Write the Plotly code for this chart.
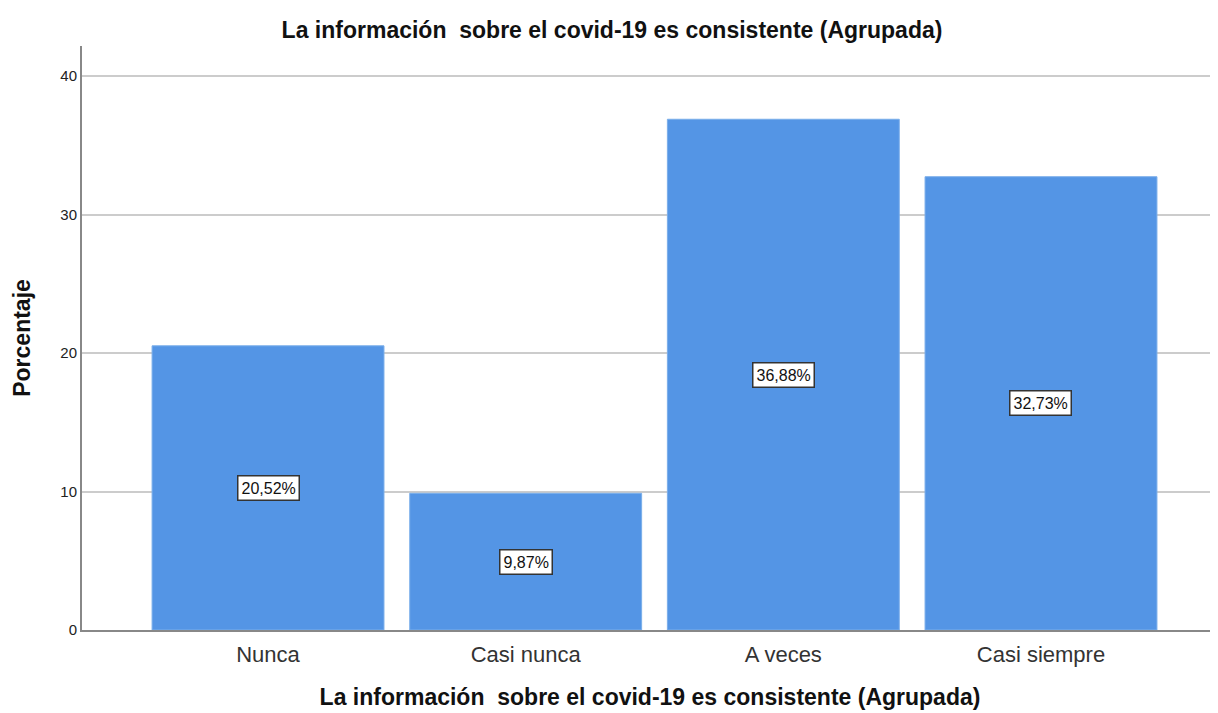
import plotly.graph_objects as go

categorias = ["Nunca", "Casi nunca", "A veces", "Casi siempre"]
porcentajes = [20.52, 9.87, 36.88, 32.73]
etiquetas = ["20,52%", "9,87%", "36,88%", "32,73%"]
y_ticks = [0, 10, 20, 30, 40]

titulo = "La información\u00a0 sobre el covid-19 es consistente (Agrupada)"

fig = go.Figure()

fig.add_trace(go.Bar(
    x=categorias,
    y=porcentajes,
    width=0.9,
    marker=dict(color='#5495e5', line=dict(color='#7aaeea', width=1)),
    hoverinfo='x+y',
))

# value labels centered in each bar, boxed like SPSS
for cat, val, txt in zip(categorias, porcentajes, etiquetas):
    fig.add_annotation(
        x=cat, y=val / 2, text=txt, showarrow=False,
        font=dict(family='Liberation Sans, Arial', size=16, color='#111'),
        bgcolor='white', bordercolor='#333', borderwidth=1.5, borderpad=3,
    )

# page body has an 8px margin, so the figure is a bit smaller than the window
fig.update_layout(
    width=1210, height=705,
    margin=dict(l=74, r=0, t=38, b=83),
    paper_bgcolor='white', plot_bgcolor='white',
    font=dict(family='Liberation Sans, Arial', color='#222'),
    title=dict(text='<b>' + titulo + '</b>', x=(612 - 8) / 1210, xref='container', xanchor='center',
               y=1 - 22 / 705, yref='container', yanchor='middle',
               font=dict(size=23, color='#111')),
    showlegend=False,
    bargap=0.1,
)

fig.update_xaxes(
    range=[-0.722, 3.687],
    showline=True, linecolor='#888', linewidth=2,
    showgrid=False, ticks='', ticklabelstandoff=4,
    tickfont=dict(size=22, color='#333'),
    title=dict(text='<b>' + titulo + '</b>', font=dict(size=23, color='#111'), standoff=22),
)

fig.update_yaxes(
    range=[0, 42.17],
    tickvals=y_ticks,
    showline=True, linecolor='#888', linewidth=2,
    showgrid=True, gridcolor='#cccccc', gridwidth=2,
    zeroline=False, ticks='',
    tickfont=dict(size=15, color='#222'),
    title=dict(text='<b>Porcentaje</b>', font=dict(size=23, color='#111'), standoff=23),
)

fig.write_html("out.html")
